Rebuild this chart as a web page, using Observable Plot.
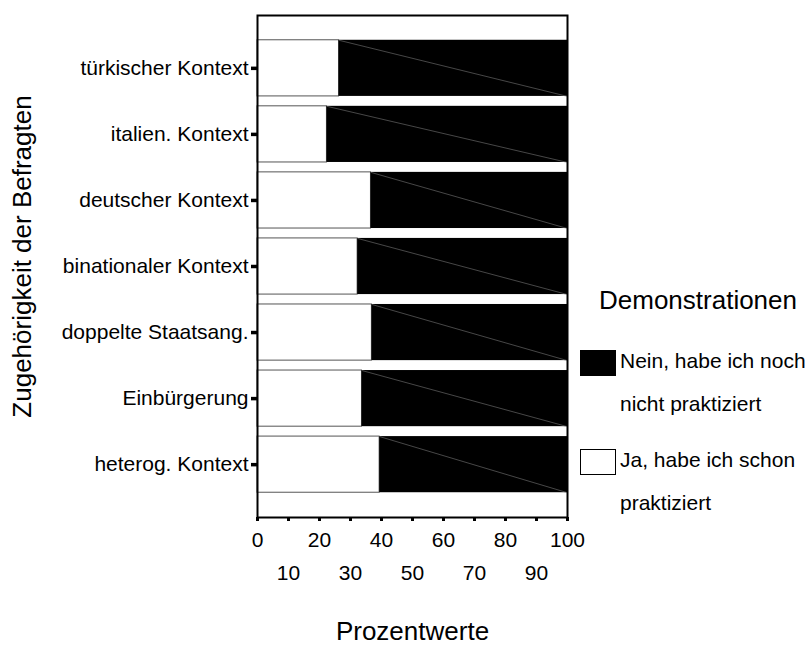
<!DOCTYPE html>
<html>
<head>
<meta charset="utf-8">
<script src="https://cdn.jsdelivr.net/npm/d3@7"></script>
<script src="https://cdn.jsdelivr.net/npm/@observablehq/plot@0.6"></script>
<style>
  html, body { margin: 0; padding: 0; background: #fff; }
  #wrap { position: relative; width: 809px; height: 645px; font-family: "Liberation Sans", Arial, sans-serif; }
  #wrap svg { position: absolute; left: 0; top: 0; }
</style>
</head>
<body>
<div id="wrap"></div>
<script>
// Data
const categories = ["türkischer Kontext", "italien. Kontext", "deutscher Kontext", "binationaler Kontext", "doppelte Staatsang.", "Einbürgerung", "heterog. Kontext"];
const jaValues = [26.3, 22.4, 36.6, 32.3, 36.9, 33.7, 39.4];   // "Ja, habe ich schon praktiziert" (%)
const neinValues = jaValues.map(v => 100 - v);                 // remainder to 100 %
const seriesNames = ["Nein, habe ich noch nicht praktiziert", "Ja, habe ich schon praktiziert"];
const seriesLines = [["Nein, habe ich noch", "nicht praktiziert"], ["Ja, habe ich schon", "praktiziert"]];
const seriesColors = ["#000000", "#ffffff"];
const majorTicks = [0, 20, 40, 60, 80, 100];
const minorTicks = [10, 30, 50, 70, 90];
const allTicks = [0, 10, 20, 30, 40, 50, 60, 70, 80, 90, 100];

const rows = categories.map((c, i) => ({i, cat: c, ja: jaValues[i], nein: neinValues[i]}));
const half = 0.425;
const font = "Liberation Sans, Arial, sans-serif";

const chart = Plot.plot({
  width: 809,
  height: 645,
  marginLeft: 257,
  marginRight: 242,
  marginTop: 15,
  marginBottom: 128,
  style: {fontFamily: font, background: "white"},
  x: {domain: [0, 100], axis: null},
  y: {domain: [-0.8, 6.8], reverse: true, axis: null},
  marks: [
    Plot.rectX(rows, {y1: d => d.i - half, y2: d => d.i + half, x1: 0, x2: "ja", fill: seriesColors[1], stroke: "#555", strokeWidth: 1, inset: 0}),
    Plot.rectX(rows, {y1: d => d.i - half, y2: d => d.i + half, x1: "ja", x2: d => d.ja + d.nein, fill: seriesColors[0], inset: 0}),
    Plot.link(rows, {x1: "ja", y1: d => d.i - half, x2: d => d.ja + d.nein, y2: d => d.i + half, stroke: "#777", strokeWidth: 0.6}),
    Plot.frame({stroke: "black", strokeWidth: 2}),
    Plot.axisY({ticks: d3.range(categories.length), tickFormat: i => categories[i], tickSize: 6, tickPadding: 3, strokeWidth: 3.5, stroke: "black", fontSize: 21, fill: "black", label: null}),
    Plot.axisX({ticks: allTicks, tickFormat: () => "", tickSize: 4, strokeWidth: 3, stroke: "black", label: null}),
    Plot.axisX({ticks: majorTicks, tickSize: 0, tickPadding: 15, fontSize: 21, fill: "black", label: null}),
    Plot.axisX({ticks: minorTicks, tickSize: 0, tickPadding: 48, fontSize: 21, fill: "black", label: null}),
    Plot.text(["Prozentwerte"], {frameAnchor: "bottom", dy: 114, fontSize: 26, fill: "black", textAnchor: "middle", lineAnchor: "middle"}),
    Plot.text(["Zugehörigkeit der Befragten"], {frameAnchor: "left", dx: -235, dy: -10, rotate: -90, fontSize: 26, fill: "black", textAnchor: "middle", lineAnchor: "middle"})
  ]
});
document.getElementById("wrap").appendChild(chart);

// Legend
const ns = "http://www.w3.org/2000/svg";
const leg = d3.select("#wrap").append("svg")
  .attr("width", 809).attr("height", 645)
  .style("pointer-events", "none")
  .attr("font-family", font);
leg.append("text").attr("x", 698).attr("y", 309).attr("text-anchor", "middle")
  .attr("font-size", 26).attr("fill", "black").text("Demonstrationen");
const legTop = [350, 449];
seriesNames.forEach((name, k) => {
  const y0 = legTop[k];
  leg.append("rect").attr("x", 580.5).attr("y", y0 + 0.5).attr("width", 35).attr("height", 25)
    .attr("fill", seriesColors[k]).attr("stroke", "black").attr("stroke-width", 1);
  seriesLines[k].forEach((line, j) => {
    leg.append("text").attr("x", 620).attr("y", y0 + 18 + j * 43)
      .attr("font-size", 21).attr("fill", "black").text(line);
  });
});
</script>
</body>
</html>
